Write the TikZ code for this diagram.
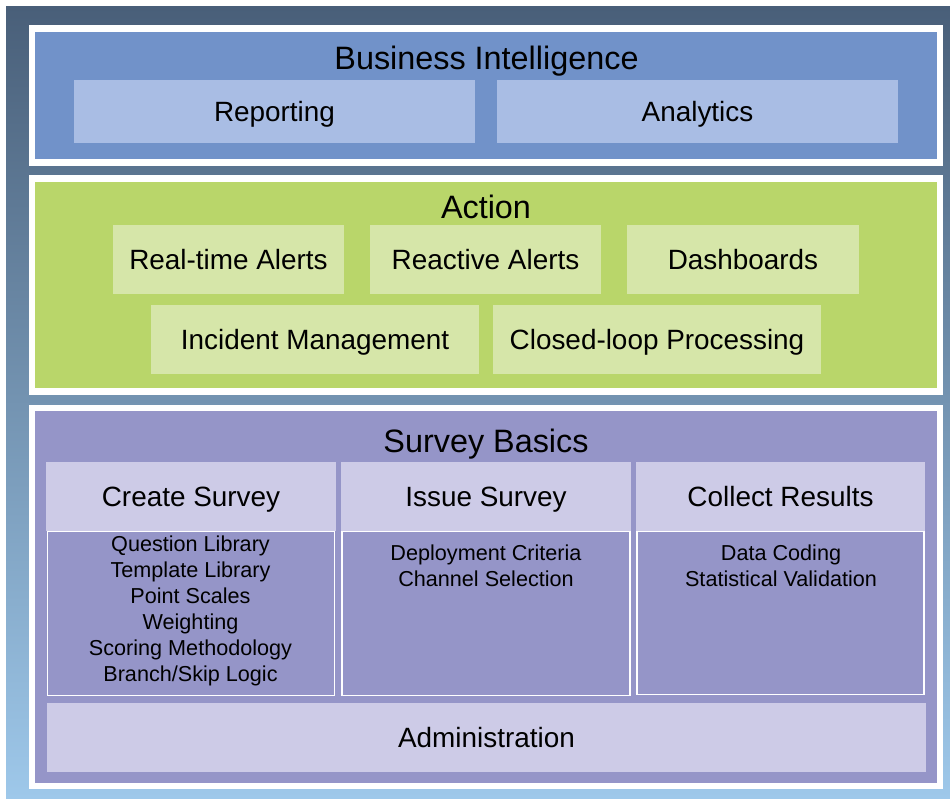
\documentclass[tikz,border=0pt]{standalone}
\usepackage{fontspec}
\setmainfont{Liberation Sans}
\definecolor{bgtop}{RGB}{73,95,121}
\definecolor{bgmid}{RGB}{112,150,190}
\definecolor{bgbot}{RGB}{158,200,234}
\definecolor{biblue}{RGB}{113,146,201}
\definecolor{bilight}{RGB}{169,189,228}
\definecolor{actgreen}{RGB}{185,214,106}
\definecolor{actlight}{RGB}{214,230,169}
\definecolor{survpurple}{RGB}{149,149,200}
\definecolor{survlight}{RGB}{205,203,231}
\begin{document}
\begin{tikzpicture}[x=1bp, y=-1bp,
    title/.style={black, anchor=base, inner sep=0pt, font=\fontsize{32.5}{39}\selectfont},
    item/.style={black, inner sep=0pt, text height=25.3bp, text depth=5.9bp,
      font=\fontsize{28}{34}\selectfont},
    itemlist/.style={black, anchor=north, inner sep=0pt, align=center,
      font=\fontsize{21.7}{26}\selectfont},
    body/.style={draw=white, line width=1.2bp, fill=survpurple, inner sep=0pt}]
    \useasboundingbox (0,0) rectangle (950,799);
    \shade[top color=bgtop, middle color=bgmid, bottom color=bgbot] (6,7) rectangle (950,798);
    \fill[white] (29,25) rectangle (943,166);
    \fill[biblue] (35,32) rectangle (937,159);
    \fill[white] (29,175) rectangle (943,395);
    \fill[actgreen] (35,182) rectangle (937,388);
    \fill[white] (29,405) rectangle (943,789);
    \fill[survpurple] (35,411) rectangle (937,783);

    \node[title] (bi) at (486.5,70) {Business Intelligence};
    \node[item, fill=bilight, minimum width=401bp, minimum height=63bp] (reporting) at (274.5,111.5) {Reporting};
    \node[item, fill=bilight, minimum width=401bp, minimum height=63bp] (analytics) at (697.5,111.5) {Analytics};

    \node[title] (action) at (486,218) {Action};
    \node[item, fill=actlight, minimum width=231bp, minimum height=69bp] (rtalerts) at (228.5,259.5) {Real-time Alerts};
    \node[item, fill=actlight, minimum width=231bp, minimum height=69bp] (reactalerts) at (485.5,259.5) {Reactive Alerts};
    \node[item, fill=actlight, minimum width=232bp, minimum height=69bp] (dashboards) at (743,259.5) {Dashboards};
    \node[item, fill=actlight, minimum width=328bp, minimum height=69bp] (incident) at (315,339.5) {Incident Management};
    \node[item, fill=actlight, minimum width=328bp, minimum height=69bp] (closedloop) at (657,339.5) {Closed-loop Processing};

    \node[title] (basics) at (486,452) {Survey Basics};
    \node[item, fill=survlight, minimum width=290bp, minimum height=69bp] (create) at (191,496.5) {Create Survey};
    \node[item, fill=survlight, minimum width=290bp, minimum height=69bp] (issue) at (486,496.5) {Issue Survey};
    \node[item, fill=survlight, minimum width=289bp, minimum height=69bp] (collect) at (780.5,496.5) {Collect Results};
    \node[body, minimum width=287bp, minimum height=164bp, anchor=north] (createbody) at (create.south) {};
    \node[body, minimum width=288bp, minimum height=164bp, anchor=north] (issuebody) at (issue.south) {};
    \node[body, minimum width=287bp, minimum height=163bp, anchor=north] (collectbody) at (collect.south) {};
    \node[itemlist] (createlist) at (190.5,535.8) {Question Library\\Template Library\\Point Scales\\Weighting\\Scoring Methodology\\Branch/Skip Logic};
    \node[itemlist] (issuelist) at (486,544.5) {Deployment Criteria\\Channel Selection};
    \node[itemlist] (collectlist) at (781,544.5) {Data Coding\\Statistical Validation};
    \node[item, fill=survlight, minimum width=879bp, minimum height=69bp] (admin) at (486.5,737.5) {Administration};
  \end{tikzpicture}
\end{document}
